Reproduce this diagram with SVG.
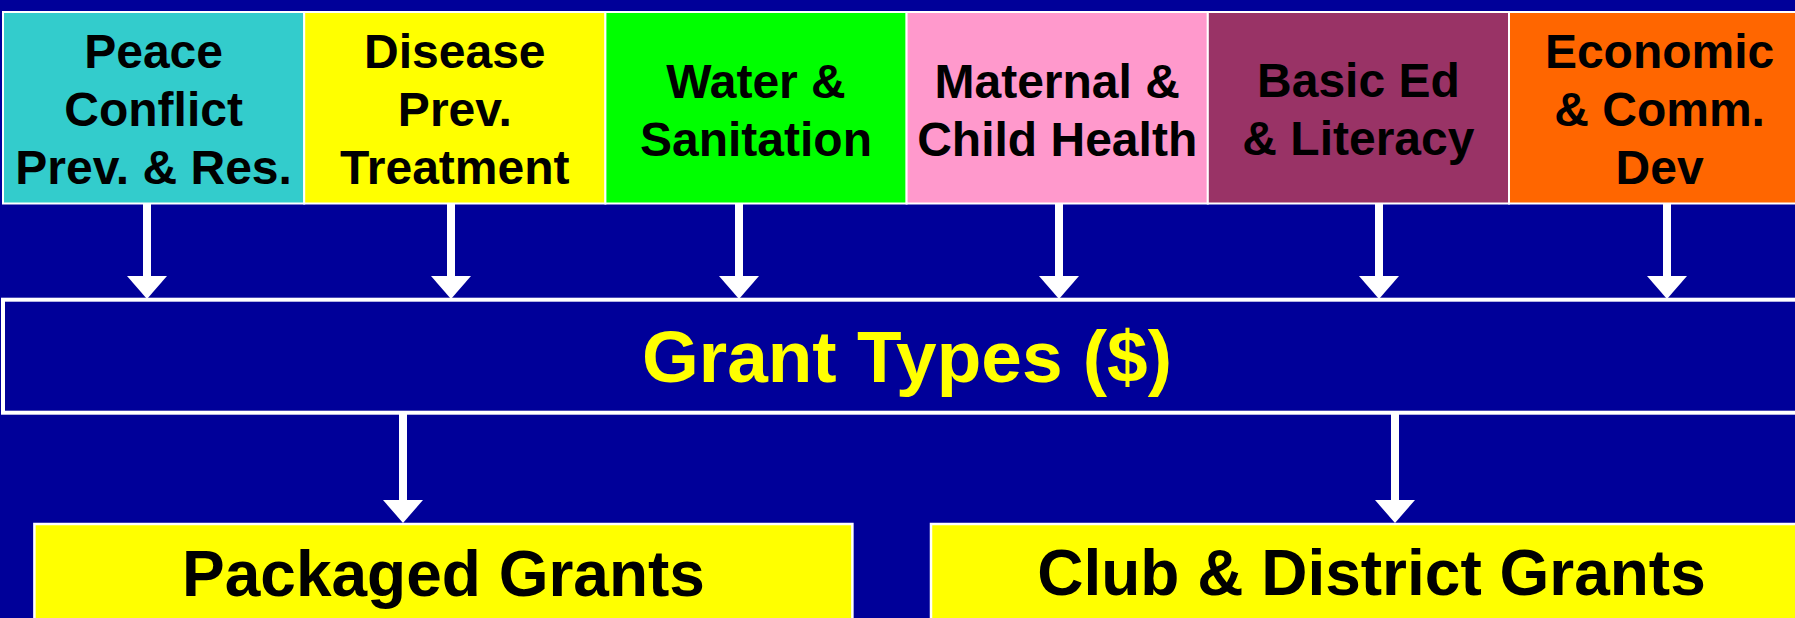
<svg xmlns="http://www.w3.org/2000/svg" width="1795" height="618" viewBox="0 0 1795 618">
  <style>
    .cat { stroke: #FFFFFF; stroke-width: 2; }
    .ct { font-family: "Liberation Sans", Arial, sans-serif; font-weight: bold; font-size: 48px; fill: #000000; text-anchor: middle; }
    .big { font-family: "Liberation Sans", Arial, sans-serif; font-weight: bold; text-anchor: middle; }
    .conn { stroke: #FFFFFF; stroke-width: 8; fill: none; marker-end: url(#ah); }
  </style>
  <defs>
    <marker id="ah" markerUnits="userSpaceOnUse" viewBox="0 0 23 40" markerWidth="23" markerHeight="40" refX="0" refY="20" orient="auto">
      <path d="M0,0 L23,20 L0,40 Z" fill="#FFFFFF"/>
    </marker>
  </defs>
  <rect x="0" y="0" width="1795" height="618" fill="#000099"/>

  <g id="peace">
    <rect class="cat" x="3" y="12" width="301.2" height="191.5" fill="#33CCCC"/>
    <text class="ct" x="153.6" y="68.3">Peace</text>
    <text class="ct" x="153.6" y="126.3">Conflict</text>
    <text class="ct" x="153.6" y="184.3">Prev. &amp; Res.</text>
  </g>
  <g id="disease">
    <rect class="cat" x="304.2" y="12" width="301.2" height="191.5" fill="#FFFF00"/>
    <text class="ct" x="454.8" y="68.3">Disease</text>
    <text class="ct" x="454.8" y="126.3">Prev.</text>
    <text class="ct" x="454.8" y="184.3">Treatment</text>
  </g>
  <g id="water">
    <rect class="cat" x="605.4" y="12" width="301.2" height="191.5" fill="#00FF00"/>
    <text class="ct" x="756" y="97.5">Water &amp;</text>
    <text class="ct" x="756" y="155.5">Sanitation</text>
  </g>
  <g id="maternal">
    <rect class="cat" x="906.6" y="12" width="301.2" height="191.5" fill="#FF99CC"/>
    <text class="ct" x="1057.2" y="97.5">Maternal &amp;</text>
    <text class="ct" x="1057.2" y="155.5">Child Health</text>
  </g>
  <g id="basiced">
    <rect class="cat" x="1207.8" y="12" width="301.2" height="191.5" fill="#993366"/>
    <text class="ct" x="1358.4" y="97">Basic Ed</text>
    <text class="ct" x="1358.4" y="155">&amp; Literacy</text>
  </g>
  <g id="economic">
    <rect class="cat" x="1509" y="12" width="301.2" height="191.5" fill="#FF6600"/>
    <text class="ct" x="1659.6" y="68.3">Economic</text>
    <text class="ct" x="1659.6" y="126.3">&amp; Comm.</text>
    <text class="ct" x="1659.6" y="184.3">Dev</text>
  </g>

  <g id="granttypes">
    <rect x="3" y="299.7" width="1820" height="113" fill="#000099" stroke="#FFFFFF" stroke-width="4"/>
    <text class="big" x="907" y="381.7" font-size="73" fill="#FFFF00">Grant Types ($)</text>
  </g>

  <g id="packaged">
    <rect x="34.4" y="524" width="818" height="120" fill="#FFFF00" stroke="#FFFFFF" stroke-width="2.5"/>
    <text class="big" x="443.5" y="596" font-size="64" fill="#000000">Packaged Grants</text>
  </g>
  <g id="clubdistrict">
    <rect x="931" y="524" width="900" height="120" fill="#FFFF00" stroke="#FFFFFF" stroke-width="2.5"/>
    <text class="big" x="1371.5" y="595" font-size="64" fill="#000000">Club &amp; District Grants</text>
  </g>

  <g id="connectors">
    <line class="conn" x1="147" y1="204" x2="147" y2="276"/>
    <line class="conn" x1="451" y1="204" x2="451" y2="276"/>
    <line class="conn" x1="739" y1="204" x2="739" y2="276"/>
    <line class="conn" x1="1059" y1="204" x2="1059" y2="276"/>
    <line class="conn" x1="1379" y1="204" x2="1379" y2="276"/>
    <line class="conn" x1="1667" y1="204" x2="1667" y2="276"/>
    <line class="conn" x1="403" y1="414" x2="403" y2="500"/>
    <line class="conn" x1="1395" y1="414" x2="1395" y2="500"/>
  </g>
</svg>
